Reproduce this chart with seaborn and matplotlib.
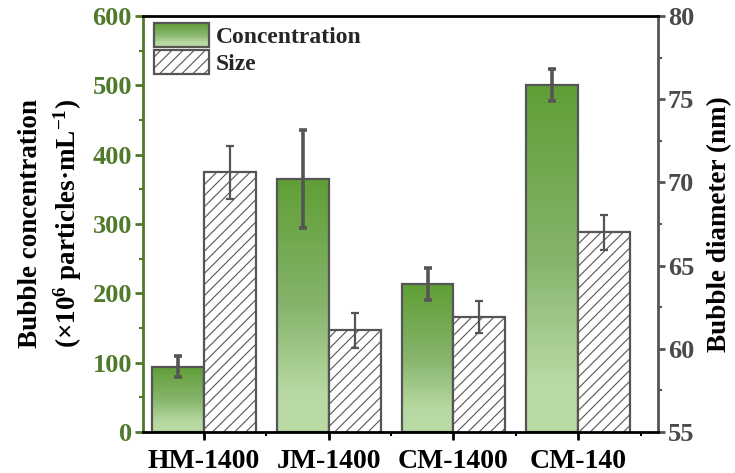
import numpy as np
import pandas as pd
import matplotlib
matplotlib.use("Agg")
import matplotlib.pyplot as plt
import seaborn as sns
from matplotlib.colors import LinearSegmentedColormap
from matplotlib.patches import Rectangle
from matplotlib.legend_handler import HandlerBase
from matplotlib.ticker import MultipleLocator, FixedLocator

# ---- data ----
categories = ["HM-1400", "JM-1400", "CM-1400", "CM-140"]
concentration = [94, 365, 213, 500]
concentration_err = [15, 71, 23, 23]
size = [70.6, 61.1, 61.9, 67.0]
size_err = [1.6, 1.05, 0.95, 1.05]
series = ["Concentration", "Size"]

sns.set_theme(style="white")
plt.rcParams["font.family"] = ["Liberation Serif", "DejaVu Serif"]
plt.rcParams["font.weight"] = "bold"
plt.rcParams["mathtext.fontset"] = "custom"
plt.rcParams["mathtext.rm"] = "Liberation Serif:bold"
plt.rcParams["mathtext.bf"] = "Liberation Serif:bold"
plt.rcParams["mathtext.it"] = "Liberation Serif:bold:italic"
plt.rcParams["mathtext.default"] = "rm"
plt.rcParams["hatch.color"] = "#555555"
plt.rcParams["hatch.linewidth"] = 0.8

GREEN_AX = "#4e7a29"
GRAY = "#555555"
grad_cmap = LinearSegmentedColormap.from_list(
    "g", [(0.0, "#bbdba5"), (0.15, "#b8d9a2"), (0.5, "#86b46c"), (1.0, "#5f9f35")])

df_c = pd.DataFrame({"cat": categories, "val": concentration, "series": "Concentration"})
df_s = pd.DataFrame({"cat": categories, "val": size, "series": "Size"})

fig = plt.figure(figsize=(7.35, 4.73), dpi=100)
ax = fig.add_axes([143/735, 1-432/473, (658-143)/735, (432-16)/473])
ax2 = ax.twinx()

sns.barplot(data=df_c, x="cat", y="val", hue="series", hue_order=series, order=categories,
            ax=ax, errorbar=None, width=0.83, dodge=True, legend=False,
            edgecolor=GRAY, linewidth=1.6, facecolor="none")
sns.barplot(data=df_s, x="cat", y="val", hue="series", hue_order=series, order=categories,
            ax=ax2, errorbar=None, width=0.83, dodge=True, legend=False,
            edgecolor=GRAY, linewidth=1.6)

ax.set_ylim(0, 600)
ax2.set_ylim(55, 80)
ax.set_xlim(-0.49, 3.64)

# gradient fill + error bars for concentration
grad = np.linspace(0, 1, 256).reshape(-1, 1)
cpatches = [p for p in ax.patches if p.get_height() > 0]
cpatches.sort(key=lambda p: p.get_x())
for p, e in zip(cpatches, concentration_err):
    x0, w, h = p.get_x(), p.get_width(), p.get_height()
    p.set_facecolor("none")
    p.set_zorder(3)
    im = ax.imshow(grad, cmap=grad_cmap, origin="lower", extent=[x0, x0 + w, 0, h],
                   aspect="auto", zorder=2, interpolation="bicubic")
    im.set_clip_path(p)
    ax.errorbar(x0 + w/2, h, yerr=e, fmt="none", ecolor=GRAY, elinewidth=2.6,
                capsize=3.2, capthick=2.6, zorder=4)
ax.set_xlim(-0.49, 3.64)
ax.set_ylim(0, 600)

spatches = [p for p in ax2.patches if p.get_height() > 0]
spatches.sort(key=lambda p: p.get_x())
for p, e in zip(spatches, size_err):
    p.set_facecolor("white")
    p.set_hatch("///")
    p.set_edgecolor(GRAY)
    ax2.errorbar(p.get_x() + p.get_width()/2, p.get_height(), yerr=e, fmt="none",
                 ecolor=GRAY, elinewidth=1.6, capsize=3.2, capthick=1.6, zorder=4)
ax2.set_ylim(55, 80)

# axes styling
for s in ["top", "bottom"]:
    ax2.spines[s].set_color("black")
    ax2.spines[s].set_linewidth(2)
ax2.spines["left"].set_color(GREEN_AX)
ax2.spines["left"].set_linewidth(2)
ax2.spines["right"].set_color(GRAY)
ax2.spines["right"].set_linewidth(2)
for s in ax.spines.values():
    s.set_visible(False)

ax.set_xlabel("")
ax.set_ylabel("Bubble concentration\n(×10$^{6}$ particles·mL$^{-1}$)", fontsize=19.5,
              fontweight="bold", color="black", labelpad=6, linespacing=1.35)
ax2.set_ylabel("Bubble diameter (nm)", fontsize=19.5, fontweight="bold", color="black",
               labelpad=9)

ax.yaxis.set_major_locator(MultipleLocator(100))
ax.yaxis.set_minor_locator(MultipleLocator(50))
ax.tick_params(axis="y", which="major", direction="out", length=6, width=2, color=GREEN_AX,
               labelcolor=GREEN_AX, labelsize=19, pad=2, left=True)
ax.tick_params(axis="y", which="minor", direction="out", length=3, width=1.5, color=GREEN_AX, left=True)
for t in ax.get_yticklabels():
    t.set_fontweight("bold")

ax2.yaxis.set_major_locator(MultipleLocator(5))
ax2.yaxis.set_minor_locator(MultipleLocator(2.5))
ax2.tick_params(axis="y", which="major", direction="out", length=5, width=2, color=GRAY,
                labelcolor="#4a4a4a", labelsize=19, pad=2, right=True)
ax2.tick_params(axis="y", which="minor", direction="out", length=3, width=1.5, color=GRAY, right=True)
for t in ax2.get_yticklabels():
    t.set_fontweight("bold")

ax.set_xticks(range(len(categories)))
ax.set_xticklabels(categories, fontsize=20, fontweight="bold")
ax.xaxis.set_minor_locator(FixedLocator([0.5, 1.5, 2.5, 3.5]))
ax.tick_params(axis="x", which="major", direction="out", length=6, width=2, color="black",
               labelcolor="black", pad=6, bottom=True)
ax.tick_params(axis="x", which="minor", direction="out", length=3, width=1.5, color="black", bottom=True)
ax2.tick_params(axis="x", which="both", bottom=False, top=False)


# legend with gradient swatch
class GradientHandler(HandlerBase):
    def create_artists(self, legend, orig_handle, xdescent, ydescent, width, height, fontsize, trans):
        arts = []
        n = 30
        for i in range(n):
            c = grad_cmap(1 - (i + 0.5) / n)
            r = Rectangle((-xdescent, -ydescent + height * (1 - (i + 1) / n)), width, height / n + 0.3,
                          facecolor=c, edgecolor="none", transform=trans)
            arts.append(r)
        arts.append(Rectangle((-xdescent, -ydescent), width, height, facecolor="none",
                              edgecolor=GRAY, linewidth=1.6, transform=trans))
        return arts


conc_handle = Rectangle((0, 0), 1, 1)
size_handle = Rectangle((0, 0), 1, 1, facecolor="white", edgecolor=GRAY, hatch="///", linewidth=1.6)
leg = ax2.legend([conc_handle, size_handle], series,
                 handler_map={conc_handle: GradientHandler()},
                 loc="upper left", bbox_to_anchor=(0.008, 1.0), frameon=False,
                 prop={"family": "Liberation Serif", "weight": "bold", "size": 17},
                 handlelength=2.3, handleheight=1.15, handletextpad=0.3, labelspacing=0.1,
                 borderaxespad=0.1, borderpad=0.2)

fig.savefig("out.png", dpi=100)
